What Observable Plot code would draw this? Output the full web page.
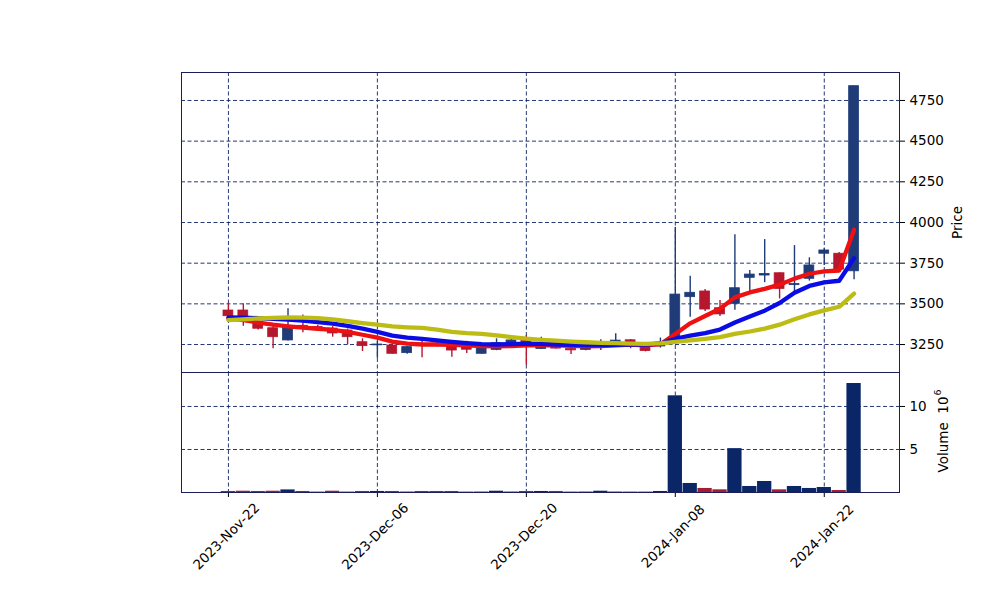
<!DOCTYPE html>
<html><head><meta charset="utf-8">
<script src="https://cdn.jsdelivr.net/npm/d3@7"></script>
<script src="https://cdn.jsdelivr.net/npm/@observablehq/plot@0.6"></script>
<style>
body{margin:0;background:#fff;font-family:"DejaVu Sans",sans-serif;}
#chart{position:relative;width:1000px;height:600px;overflow:hidden;}
#chart svg{position:absolute;left:0;}
</style></head><body><div id="chart"></div>
<script>
const dates = ["2023-Nov-22","2023-Nov-23","2023-Nov-24","2023-Nov-27","2023-Nov-28","2023-Nov-29","2023-Nov-30",
 "2023-Dec-01","2023-Dec-04","2023-Dec-05","2023-Dec-06","2023-Dec-07","2023-Dec-08","2023-Dec-11","2023-Dec-12",
 "2023-Dec-13","2023-Dec-14","2023-Dec-15","2023-Dec-18","2023-Dec-19","2023-Dec-20","2023-Dec-21","2023-Dec-22",
 "2023-Dec-27","2023-Dec-28","2023-Dec-29","2024-Jan-02","2024-Jan-03","2024-Jan-04","2024-Jan-05","2024-Jan-08",
 "2024-Jan-09","2024-Jan-10","2024-Jan-11","2024-Jan-12","2024-Jan-15","2024-Jan-16","2024-Jan-17","2024-Jan-18",
 "2024-Jan-19","2024-Jan-22","2024-Jan-23","2024-Jan-24"];
const open  = [3459,3459,3385,3350,3275,3365,3357,3348,3336,3264,3245,3244,3197,3254,3255,3244,3240,3193,3217,3258,3272,3223,3244,3222,3217,3250,3264,3276,3234,3238,3265,3541,3576,3473,3500,3660,3674,3688,3615,3654,3808,3808,3700];
const high  = [3505,3500,3395,3372,3470,3432,3368,3360,3345,3285,3270,3275,3240,3270,3262,3258,3270,3240,3285,3282,3305,3295,3250,3244,3250,3280,3316,3280,3240,3290,3970,3670,3588,3520,3925,3705,3895,3690,3858,3783,3840,3815,4838];
const low   = [3410,3362,3340,3224,3272,3322,3330,3295,3248,3207,3165,3190,3190,3168,3235,3172,3195,3190,3212,3255,3122,3220,3222,3188,3212,3213,3260,3224,3205,3228,3250,3418,3453,3422,3460,3572,3630,3530,3571,3640,3736,3705,3648];
const close = [3424,3420,3347,3295,3356,3345,3338,3318,3295,3240,3250,3193,3234,3244,3240,3213,3218,3233,3258,3275,3260,3244,3225,3214,3244,3256,3274,3255,3210,3262,3557,3568,3465,3435,3596,3680,3684,3592,3622,3736,3828,3710,4838];
const volumeM = [0.12,0.15,0.12,0.15,0.3,0.12,0.05,0.15,0.05,0.12,0.12,0.12,0.05,0.12,0.12,0.12,0.05,0.05,0.15,0.05,0.12,0.12,0.12,0.05,0.05,0.15,0.05,0.05,0.05,0.12,11.24,1.05,0.47,0.31,5.1,0.7,1.28,0.31,0.7,0.47,0.58,0.23,12.67];
const maRed    = [3410,3400,3385,3372,3362,3354,3347,3340,3328,3310,3292,3268,3255,3250,3250,3248,3245,3240,3238,3240,3245,3245,3245,3242,3238,3240,3245,3250,3245,3252,3315,3380,3425,3470,3540,3570,3592,3618,3655,3685,3700,3705,3955];
const maBlue   = [3416,3415,3412,3408,3403,3397,3388,3378,3364,3347,3328,3305,3292,3285,3276,3266,3258,3252,3250,3252,3255,3254,3250,3248,3246,3246,3248,3250,3250,3255,3285,3305,3320,3342,3385,3422,3458,3505,3568,3610,3632,3642,3780];
const maYellow = [3400,3405,3410,3414,3416,3415,3412,3405,3393,3382,3372,3362,3356,3352,3342,3328,3320,3316,3306,3296,3286,3279,3274,3268,3264,3260,3258,3255,3254,3257,3266,3276,3285,3296,3315,3330,3348,3372,3405,3435,3460,3482,3563];
const tickIdx = [0,10,20,30,40];
const priceTicks = [3250,3500,3750,4000,4250,4500,4750];
const volTicks = [5,10];

const UP = "#1f3c78", DOWN = "#b5172e", VUP = "#0a2667", VDOWN = "#a51b33";
const GRID = "#0f2266", FRAME = "#1a1f5a";
const rows = dates.map((d,i)=>({i, date:d, o:open[i], h:high[i], l:low[i], c:close[i], v:volumeM[i],
  r:maRed[i], b:maBlue[i], yl:maYellow[i], up: close[i] >= open[i]}));
const xdom = [-3.15, 45.05];
const grid = {stroke: GRID, strokeDasharray: "4,2.5", strokeWidth: 0.9};
const style = {fontFamily: "DejaVu Sans", fontSize: "13.5px", color: "#000", background: "transparent", overflow: "visible"};
const fmt = d3.format("d");

const price = Plot.plot({
  width: 1000, height: 372, marginTop: 72, marginBottom: 0, marginLeft: 181, marginRight: 101,
  style,
  x: {type: "linear", domain: xdom, axis: null},
  y: {domain: [3078, 4922]},
  marks: [
    Plot.ruleY(priceTicks, grid),
    Plot.ruleX(tickIdx, grid),
    Plot.ruleX(rows, {x: "i", y1: "l", y2: "h", stroke: d => d.up ? UP : DOWN, strokeWidth: 1.4}),
    Plot.rect(rows, {x1: d => d.i - 0.33, x2: d => d.i + 0.33, y1: "o", y2: "c", fill: d => d.up ? UP : DOWN,
      stroke: d => d.up ? UP : DOWN, strokeWidth: 0.8}),
    Plot.line(rows, {x: "i", y: "r", stroke: "#ee1111", strokeWidth: 4.3}),
    Plot.line(rows, {x: "i", y: "b", stroke: "#0b0be6", strokeWidth: 4.3}),
    Plot.line(rows, {x: "i", y: "yl", stroke: "#bcbc14", strokeWidth: 4.3}),
    Plot.axisY({anchor: "right", ticks: priceTicks, tickFormat: fmt, tickSize: 5, tickPadding: 5, label: null}),
    Plot.text(["Price"], {frameAnchor: "right", dx: 58, rotate: -90, fontSize: 13.5, textAnchor: "middle", lineAnchor: "middle"}),
    Plot.frame({stroke: FRAME, strokeWidth: 1})
  ]
});
price.style.top = "0px";

const volume = Plot.plot({
  width: 1000, height: 228, marginTop: 0, marginBottom: 108, marginLeft: 181, marginRight: 101,
  style,
  x: {type: "linear", domain: xdom},
  y: {domain: [0, 13.95]},
  marks: [
    Plot.ruleY(volTicks, grid),
    Plot.ruleX(tickIdx, grid),
    Plot.rect(rows, {x1: d => d.i - 0.48, x2: d => d.i + 0.48, y1: 0, y2: "v", fill: d => d.up ? VUP : VDOWN}),
    Plot.axisY({anchor: "right", ticks: volTicks, tickFormat: fmt, tickSize: 5, tickPadding: 5, label: null}),
    Plot.axisX({ticks: tickIdx, tickSize: 5, tickFormat: () => "", label: null}),
    Plot.text(tickIdx, {x: d => d, text: d => dates[d], frameAnchor: "bottom", dy: 44, dx: -2, rotate: -45,
      textAnchor: "middle", lineAnchor: "middle", fontSize: 13.5}),
    Plot.text(["Volume  10"], {frameAnchor: "right", dx: 44, dy: 2, rotate: -90, fontSize: 13.5, textAnchor: "middle", lineAnchor: "middle"}),
    Plot.text(["6"], {frameAnchor: "right", dx: 38, dy: -37, rotate: -90, fontSize: 9.5, textAnchor: "start", lineAnchor: "middle"}),
    Plot.frame({stroke: FRAME, strokeWidth: 1})
  ]
});
volume.style.top = "372px";

const chart = document.getElementById("chart");
chart.append(price, volume);
</script></body></html>
